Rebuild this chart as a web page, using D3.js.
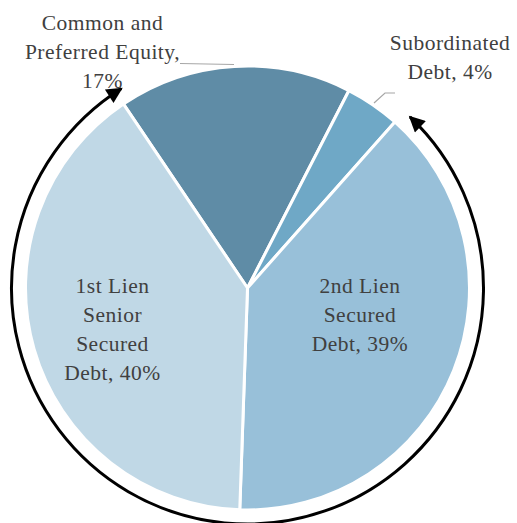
<!DOCTYPE html>
<html>
<head>
<meta charset="utf-8">
<script src="https://cdn.jsdelivr.net/npm/d3@7"></script>
<style>
  html, body { margin: 0; padding: 0; background: #fff; }
  svg { display: block; }
  .lbl { font-family: "Liberation Serif", "Times New Roman", serif; font-size: 21.5px; letter-spacing: 0.5px; fill: #404040; }
</style>
</head>
<body>
<svg id="chart" width="517" height="523"></svg>
<script>
// slices, clockwise from the top-left edge
const categories = ["Common and Preferred Equity", "Subordinated Debt", "2nd Lien Secured Debt", "1st Lien Senior Secured Debt"];
const shares = [17, 4, 39, 40];
const labelLines = [
    ["Common and", "Preferred Equity,", "17%"],
    ["Subordinated", "Debt, 4%"],
    ["2nd Lien", "Secured", "Debt, 39%"],
    ["1st Lien", "Senior", "Secured", "Debt, 40%"]
];
// the bracket arrow spans the two lien slices plus subordinated debt
const bracketFrom = 43.5, bracketTo = 327.7; // degrees, clockwise from 12 o'clock

const colors = ["#5f8ca6", "#6fa8c6", "#98c0d9", "#c0d8e6"];
// label anchors (centre x, first baseline y)
const labelPos = [[102.5, 30], [450, 50], [360, 293], [112.5, 293]];
const lineHeight = 29;

const cx = 247.5, cy = 288, R = 222, bracketR = 236;
const rad = Math.PI / 180;

const svg = d3.select("#chart");

const pie = d3.pie()
    .sort(null)
    .value(d => d)
    .startAngle(-34 * rad)
    .endAngle(326 * rad);

const arc = d3.arc().innerRadius(0).outerRadius(R);

const g = svg.append("g").attr("transform", `translate(${cx},${cy})`);

g.selectAll("path.slice")
    .data(pie(shares))
    .join("path")
    .attr("class", "slice")
    .attr("d", arc)
    .attr("fill", (d, i) => colors[i])
    .attr("stroke", "#fff")
    .attr("stroke-width", 3)
    .attr("stroke-linejoin", "round");

// arrow bracket round the outside
svg.append("defs").append("marker")
    .attr("id", "head")
    .attr("viewBox", "0 0 10 10")
    .attr("refX", 9)
    .attr("refY", 5)
    .attr("markerUnits", "userSpaceOnUse")
    .attr("markerWidth", 18)
    .attr("markerHeight", 16)
    .attr("orient", "auto-start-reverse")
    .append("path")
    .attr("d", "M0,0 L10,5 L0,10 Z")
    .attr("fill", "#000");

const p = d3.path();
p.arc(0, 0, bracketR, (bracketFrom - 90) * rad, (bracketTo - 90) * rad, false);
g.append("path")
    .attr("d", p.toString())
    .attr("fill", "none")
    .attr("stroke", "#000")
    .attr("stroke-width", 3)
    .attr("marker-start", "url(#head)")
    .attr("marker-end", "url(#head)");

// leader lines for the outside labels
svg.append("polyline")
    .attr("points", "180,63.5 234,64.5")
    .attr("fill", "none").attr("stroke", "#a6a6a6").attr("stroke-width", 1.2);
svg.append("polyline")
    .attr("points", "395,93 385,93 374,103")
    .attr("fill", "none").attr("stroke", "#a6a6a6").attr("stroke-width", 1.2);

// labels
labelLines.forEach((lines, i) => {
    const t = svg.append("text")
        .attr("class", "lbl")
        .attr("text-anchor", "middle");
    lines.forEach((s, j) => {
        t.append("tspan")
            .attr("x", labelPos[i][0])
            .attr("y", labelPos[i][1] + j * lineHeight)
            .text(s);
    });
});
</script>
</body>
</html>
